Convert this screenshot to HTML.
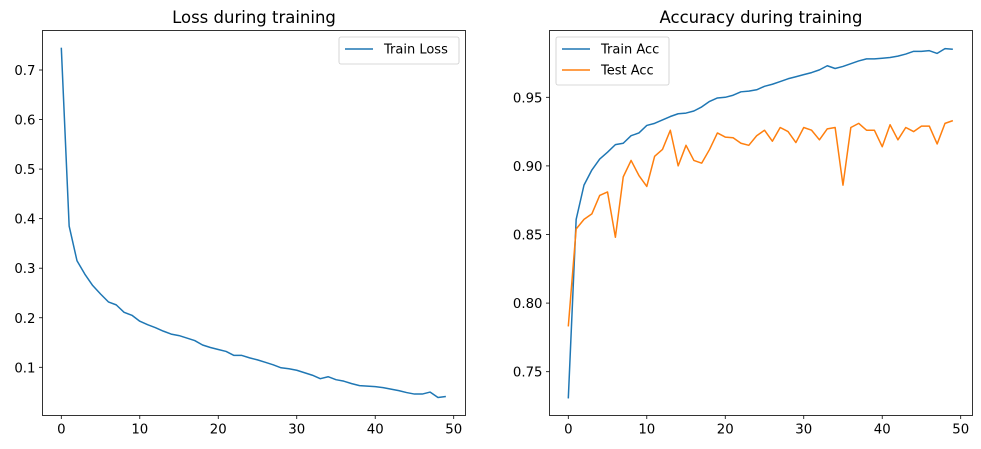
<!DOCTYPE html>
<html><head><meta charset="utf-8"><style>
body{margin:0;background:#fff;}
svg{display:block;font-family:"DejaVu Sans","Liberation Sans",sans-serif;}
</style></head><body>
<svg id="fig" width="981" height="449"></svg>
<script>
const epochs = Array.from({length:50},(_,i)=>i);
const trainLoss = [0.745,0.385,0.315,0.288,0.265,0.248,0.232,0.226,0.211,0.205,0.193,0.186,0.180,0.173,0.167,0.164,0.159,0.154,0.145,0.140,0.136,0.132,0.124,0.124,0.119,0.115,0.110,0.105,0.099,0.097,0.094,0.089,0.084,0.077,0.081,0.075,0.072,0.067,0.063,0.062,0.061,0.059,0.056,0.053,0.049,0.046,0.046,0.050,0.039,0.041];
const trainAcc = [0.7305,0.861,0.886,0.897,0.905,0.910,0.9155,0.9165,0.922,0.924,0.9295,0.931,0.9335,0.936,0.938,0.9385,0.940,0.943,0.947,0.9495,0.950,0.9515,0.954,0.9545,0.9555,0.958,0.9595,0.9615,0.9635,0.965,0.9665,0.968,0.970,0.973,0.971,0.9725,0.9745,0.9765,0.978,0.978,0.9785,0.979,0.980,0.9815,0.9835,0.9835,0.984,0.982,0.9855,0.985];
const testAcc = [0.783,0.854,0.861,0.865,0.8785,0.881,0.848,0.892,0.904,0.893,0.885,0.907,0.912,0.926,0.900,0.915,0.904,0.902,0.912,0.924,0.921,0.9205,0.9165,0.915,0.922,0.926,0.918,0.928,0.925,0.917,0.928,0.926,0.919,0.927,0.928,0.886,0.928,0.931,0.926,0.926,0.914,0.930,0.919,0.928,0.925,0.929,0.929,0.916,0.931,0.933];
const xTicks = [0,10,20,30,40,50];
const lossTicks = [0.1,0.2,0.3,0.4,0.5,0.6,0.7];
const accTicks = [0.75,0.80,0.85,0.90,0.95];

const NS="http://www.w3.org/2000/svg";
const svg=document.getElementById('fig');
function mk(tag,attrs,parent){const e=document.createElementNS(NS,tag);for(const k in attrs)e.setAttribute(k,attrs[k]);(parent||svg).appendChild(e);return e;}

function panel(cfg){
  const g=mk('g',{});
  
  
  const x=v=>cfg.x0+(v-0)*(cfg.x50-cfg.x0)/50;
  const y=v=>cfg.ya+(v-cfg.va)*(cfg.yb-cfg.ya)/(cfg.vb-cfg.va);
  cfg.series.forEach(s=>{
    const p=mk('polyline',{points:epochs.map((e,i)=>x(e)+','+y(s.data[i])).join(' '),fill:'none',stroke:s.color,'stroke-width':1.5,'stroke-linejoin':'round'},g);
    
    
  });
  const fr=mk('rect',{x:cfg.L,y:cfg.T,width:cfg.R-cfg.L,height:cfg.B-cfg.T,fill:'none',stroke:'#000','stroke-width':0.8},g);
  
  
  xTicks.forEach(t=>{
    mk('line',{x1:x(t),x2:x(t),y1:cfg.B,y2:cfg.B+3.5,stroke:'#000','stroke-width':0.8},g);
    const tx=mk('text',{x:x(t),y:cfg.B+18,'text-anchor':'middle','font-size':13.3,fill:'#000'},g);
    tx.textContent=t;
    
    
  });
  cfg.yTicks.forEach(t=>{
    mk('line',{x1:cfg.L-3.5,x2:cfg.L,y1:y(t),y2:y(t),stroke:'#000','stroke-width':0.8},g);
    const tx=mk('text',{x:cfg.L-7,y:y(t)+5,'text-anchor':'end','font-size':13.3,fill:'#000'},g);
    tx.textContent=t.toFixed(cfg.dec);
    
    
  });
  const ti=mk('text',{x:(cfg.L+cfg.R)/2,y:23,'text-anchor':'middle','font-size':16.5,fill:'#000'},g);
  ti.textContent=cfg.title;
  
  
  const lg=mk('g',{},g);
  
  
  mk('rect',{x:cfg.lx,y:37,width:cfg.lw,height:6+21*cfg.series.length,rx:2,fill:'#fff',stroke:'#ccc','stroke-width':0.8},lg);
  cfg.series.forEach((s,i)=>{
    const yy=49+21*i;
    mk('line',{x1:cfg.lx+6,x2:cfg.lx+34,y1:yy,y2:yy,stroke:s.color,'stroke-width':1.5},lg);
    const t=mk('text',{x:cfg.lx+45,y:yy+4.5,'font-size':13,fill:'#000'},lg);
    t.textContent=s.label;
    
    
  });
}
panel({name:'loss-chart',L:42.5,R:465.5,T:30.5,B:415.5,x0:61.3,x50:453.7,ya:70,va:0.7,yb:367.3,vb:0.1,yTicks:lossTicks,dec:1,
  title:'Loss during training',lx:339,lw:120,
  series:[{id:'train-loss-line',label:'Train Loss',data:trainLoss,color:'#1f77b4'}]});
panel({name:'accuracy-chart',L:549.5,R:972.5,T:30.5,B:415.5,x0:568.3,x50:960.7,ya:97.3,va:0.95,yb:371.7,vb:0.75,yTicks:accTicks,dec:2,
  title:'Accuracy during training',lx:556,lw:113,
  series:[{id:'train-acc-line',label:'Train Acc',data:trainAcc,color:'#1f77b4'},{id:'test-acc-line',label:'Test Acc',data:testAcc,color:'#ff7f0e'}]});
</script>
</body></html>
